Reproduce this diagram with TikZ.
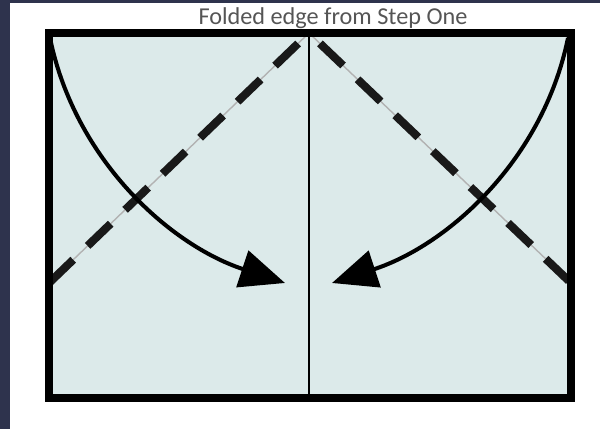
\documentclass[tikz,border=0pt]{standalone}
\usepackage{fontspec}
\setmainfont{Carlito}
\usepackage{tikz}
\usetikzlibrary{arrows.meta, calc}
\definecolor{paneblue}{RGB}{220,234,234}
\definecolor{slatenavy}{RGB}{46,51,77}
\definecolor{labelgray}{RGB}{85,85,85}
\tikzset{
    sheet/.style={draw=black, line width=4.8pt, line join=miter},
    crease/.style={draw=black, line width=1.1pt},
    guide/.style={draw=gray!60, line width=0.8pt},
    foldline/.style={draw=black!90, line width=4.6pt, dash pattern=on 18.2pt off 11.4pt, dash phase=21pt},
    foldarrow/.style={line width=2.3pt, -{Triangle[length=0.9cm, width=0.76cm]}}
}

\begin{document}
\begin{tikzpicture}[x=0.02cm, y=-0.02cm]
        \useasboundingbox (0,0) rectangle (600,429);
        % Background strips
        \fill[slatenavy] (0,0) rectangle (600,3.5);
        \fill[slatenavy] (0,0) rectangle (10,429);

        % Corners and fold points
        \coordinate (nw) at (49,33);
        \coordinate (se) at (571,398);
        \coordinate (apex) at (309,33);
        \coordinate (foot) at (309,398);
        \coordinate (lefthit) at (49,283);
        \coordinate (righthit) at (571,283);
        \coordinate (leftstart) at (50,38);
        \coordinate (rightstart) at (568,38);
        \coordinate (lefttip) at (285,283);
        \coordinate (righttip) at (332,283);

        % Paper
        \fill[paneblue] (nw) rectangle (se);

        % Fold lines
        \draw[guide] (apex) -- (lefthit);
        \draw[guide] (apex) -- (righthit);
        \draw[foldline] (apex) -- (lefthit);
        \draw[foldline] (apex) -- (righthit);
        \draw[crease] (apex) -- (foot);

        % Arrows
        \draw[foldarrow] (leftstart) .. controls (75,160) and (170,245) .. (lefttip);
        \draw[foldarrow] (rightstart) .. controls (543,160) and (448,245) .. (righttip);

        \draw[sheet] (nw) rectangle (se);

        % Label
        \node (caption) [anchor=base, text=labelgray, inner sep=0pt, font=\fontsize{13.8}{16}\selectfont] at (333,25) {Folded edge from Step One};
    \end{tikzpicture}
\end{document}
